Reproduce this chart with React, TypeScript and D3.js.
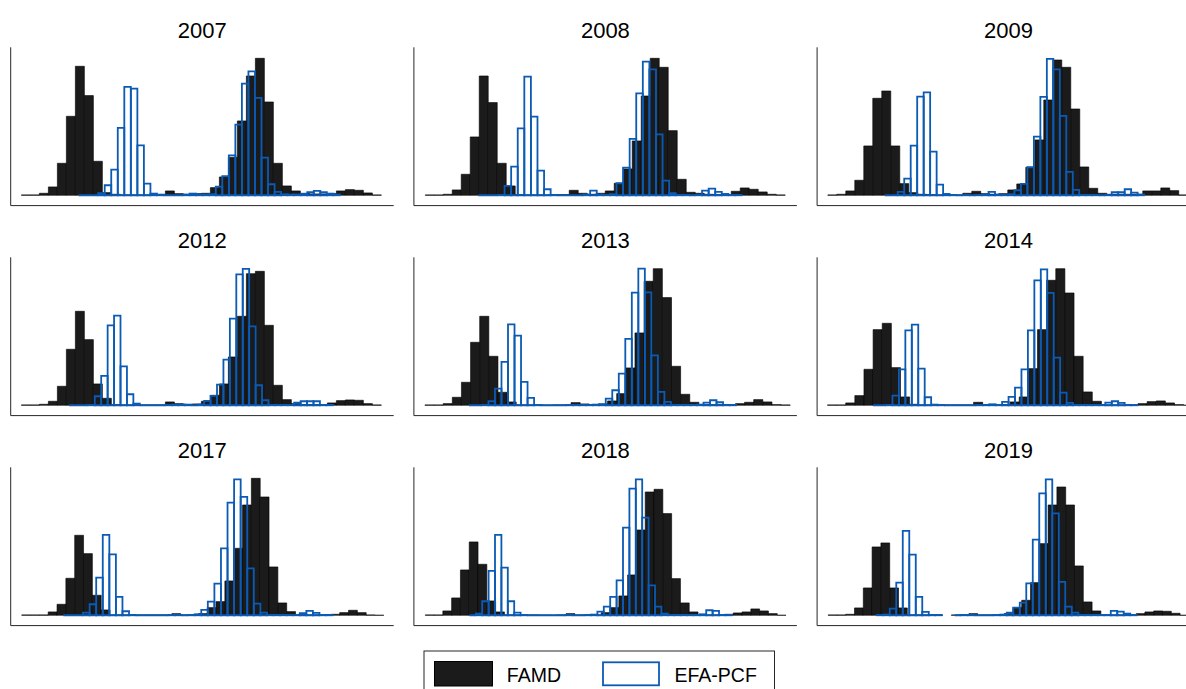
import React from 'react';
import * as d3 from 'd3';

// ---- data (bin counts; x in score units 0..1149) ----
const years = ['2007', '2008', '2009', '2012', '2013', '2014', '2017', '2018', '2019'];

// FAMD histogram: first bin edge and bin width per year
const famdStart = [32, 34, 32, 32, 33, 31, 33, 34, 33];
const famdWidth = [27, 27, 27, 27, 27.4, 27.4, 26.5, 26.4, 26.4];
// EFA-PCF histogram: first bin edge and bin width per year
const efaStart = [203.6, 193, 203, 175, 165, 168, 158, 166.5, 179];
const efaWidth = [19.6, 19.75, 19.45, 19.3, 19.55, 19.35, 19.7, 19.2, 19.5];

const famd2007 = [1,1,6,25,96,237,387,299,102,8,3,1,1,1,1,2,13,5,3,5,6,23,55,114,223,358,411,280,96,28,13,6,4,4,5,13,17,15,7,1];
const efa2007 = [0,0,0,6,30,77,202,325,320,150,35,5,2,0,0,0,2,5,2,2,3,26,57,120,212,335,372,292,113,33,10,3,2,2,4,9,13,9,5,2];
const famd2008 = [1,1,3,16,63,175,358,278,96,28,2,1,1,1,2,2,15,6,3,6,13,36,79,163,298,411,384,194,48,9,6,3,2,2,12,22,18,10,3,1];
const efa2008 = [0,0,0,1,28,86,201,356,236,74,18,1,0,0,0,0,2,14,2,1,3,36,83,169,306,401,378,183,44,6,1,1,0,1,14,20,10,4,1,1];
const famd2009 = [1,3,13,45,148,291,313,148,35,8,3,2,1,1,1,6,12,5,3,5,16,34,84,166,286,406,384,259,85,21,6,3,3,3,3,13,13,22,14,1];
const efa2009 = [0,0,10,50,149,296,309,131,32,4,1,0,1,0,1,2,10,2,1,3,15,34,84,176,295,409,378,238,70,16,1,1,1,0,1,9,9,18,8,2];
const famd2012 = [1,1,3,12,57,168,282,197,64,21,2,1,1,1,1,1,10,5,2,4,12,30,64,145,267,395,402,240,60,17,5,2,2,2,7,14,16,15,5,1];
const efa2012 = [0,0,0,1,27,88,240,269,117,33,5,0,0,0,0,1,2,2,2,0,2,13,28,62,137,260,393,409,237,60,15,1,1,1,1,8,12,12,12,1,1];
const famd2013 = [1,1,5,24,69,189,267,147,39,10,1,1,1,0,1,1,8,4,2,4,13,35,112,217,372,410,323,117,33,9,2,2,2,2,5,9,17,10,2,1];
const efa2013 = [0,0,1,12,50,130,243,209,70,22,1,0,0,0,0,1,1,1,1,2,3,20,45,95,199,338,410,339,150,40,10,1,1,1,1,2,8,15,9,1,1];
const famd2014 = [1,1,7,29,108,227,246,113,25,3,1,1,1,1,1,1,9,2,1,2,10,25,110,227,375,410,337,147,40,12,1,1,1,1,5,11,13,7,2,0];
const efa2014 = [0,0,1,29,108,225,242,110,24,2,1,0,0,0,0,0,1,1,3,1,10,25,53,108,225,375,408,337,143,38,7,1,1,1,1,1,8,12,7,1,1];
const famd2017 = [1,1,1,10,33,111,240,185,60,16,1,1,1,1,1,1,1,5,1,1,5,23,41,103,201,331,411,355,145,37,11,1,1,1,1,3,8,15,8,1,0];
const efa2017 = [0,0,0,8,33,113,241,183,55,12,1,0,0,0,0,0,1,1,0,1,3,16,41,95,201,338,408,355,141,35,8,1,1,1,1,1,6,13,7,1,1];
const famd2018 = [1,1,13,52,136,220,153,43,10,1,1,1,1,0,0,1,5,1,1,1,8,23,58,121,256,370,378,305,110,37,10,1,1,1,3,7,10,19,13,5,0];
const efa2018 = [0,5,42,133,241,143,42,8,1,0,0,0,0,0,0,1,0,0,1,2,11,26,55,105,263,380,408,293,90,26,5,1,1,1,1,1,3,15,13,1,1];
const famd2019 = [1,1,3,22,82,205,217,82,22,1,1,1,1,null,1,1,5,1,1,1,5,23,45,98,215,331,385,331,148,40,13,1,1,1,1,5,10,13,12,6,0];
const efa2019 = [1,2,20,98,253,182,55,10,1,1,null,null,0,1,1,0,0,0,1,2,8,23,38,96,227,366,408,306,100,26,8,1,1,1,1,1,13,11,5,1];

const famdCounts = [famd2007, famd2008, famd2009, famd2012, famd2013, famd2014, famd2017, famd2018, famd2019];
const efaCounts = [efa2007, efa2008, efa2009, efa2012, efa2013, efa2014, efa2017, efa2018, efa2019];

const seriesNames = ['FAMD', 'EFA-PCF'];
const xDomain = [0, 1149];
const yDomain = [-31, 444];

// ---- layout ----
const W = 1186;
const H = 689;
const PANEL_W = 383;
const PANEL_H = 158.3;
const LEFT0 = 10.7;
const COL_STEP = 403.2;
const TOP0 = 47.3;
const ROW_STEP = 210;

const FAMD_FILL = '#1b1b1b';
const EFA_STROKE = '#0b5bb4';
const AXIS = '#262626';
const FONT = '"Liberation Sans", Arial, Helvetica, sans-serif';

const x = d3.scaleLinear().domain(xDomain).range([0, PANEL_W]);
const y = d3.scaleLinear().domain(yDomain).range([PANEL_H, 0]);

function barPaths(counts: (number | null)[], start: number, width: number) {
  const out: string[] = [];
  counts.forEach((v, i) => {
    if (v === null || v === undefined) return;
    const x0 = x(start + i * width);
    const x1 = x(start + (i + 1) * width);
    const y0 = y(0);
    const y1 = y(v);
    const p = d3.path();
    p.moveTo(x0, y0);
    p.lineTo(x0, y1);
    p.lineTo(x1, y1);
    p.lineTo(x1, y0);
    p.closePath();
    out.push(p.toString());
  });
  return out;
}

function Panel({ idx }: { idx: number }) {
  const col = idx % 3;
  const row = Math.floor(idx / 3);
  const left = LEFT0 + col * COL_STEP;
  const top = TOP0 + row * ROW_STEP;
  const famd = barPaths(famdCounts[idx], famdStart[idx], famdWidth[idx]);
  const efa = barPaths(efaCounts[idx], efaStart[idx], efaWidth[idx]);
  return (
    <g transform={`translate(${left},${top})`}>
      <text
        x={PANEL_W / 2}
        y={-9.3}
        textAnchor="middle"
        fontFamily={FONT}
        fontSize={22}
        fill="#000"
      >
        {years[idx]}
      </text>
      {famd.map((d, i) => (
        <path key={'f' + i} d={d} fill={FAMD_FILL} stroke="#000" strokeWidth={0.6} />
      ))}
      {efa.map((d, i) => (
        <path key={'e' + i} d={d} fill="none" stroke={EFA_STROKE} strokeWidth={1.8} />
      ))}
      <line x1={0} x2={0} y1={0} y2={PANEL_H} stroke={AXIS} strokeWidth={1} />
      <line x1={0} x2={PANEL_W} y1={PANEL_H} y2={PANEL_H} stroke={AXIS} strokeWidth={1} />
    </g>
  );
}

function Legend() {
  return (
    <g>
      <rect x={424} y={651} width={350.5} height={60} fill="#fff" stroke={AXIS} strokeWidth={1} />
      <rect x={434.5} y={661.5} width={58} height={24.5} fill={FAMD_FILL} stroke="#000" strokeWidth={1} />
      <text x={506.8} y={681.7} fontFamily={FONT} fontSize={19.5} fill="#000">
        {seriesNames[0]}
      </text>
      <rect x={603} y={662.3} width={56} height={23} fill="none" stroke={EFA_STROKE} strokeWidth={1.8} />
      <text x={674.5} y={681.7} fontFamily={FONT} fontSize={19.5} fill="#000">
        {seriesNames[1]}
      </text>
    </g>
  );
}

export default function App() {
  return (
    <svg
      width={W}
      height={H}
      viewBox={`0 0 ${W} ${H}`}
      style={{ position: 'absolute', left: 0, top: 0, background: '#fff' }}
    >
      <rect x={0} y={0} width={W} height={H} fill="#fff" />
      {years.map((_, i) => (
        <Panel key={i} idx={i} />
      ))}
      <Legend />
    </svg>
  );
}
